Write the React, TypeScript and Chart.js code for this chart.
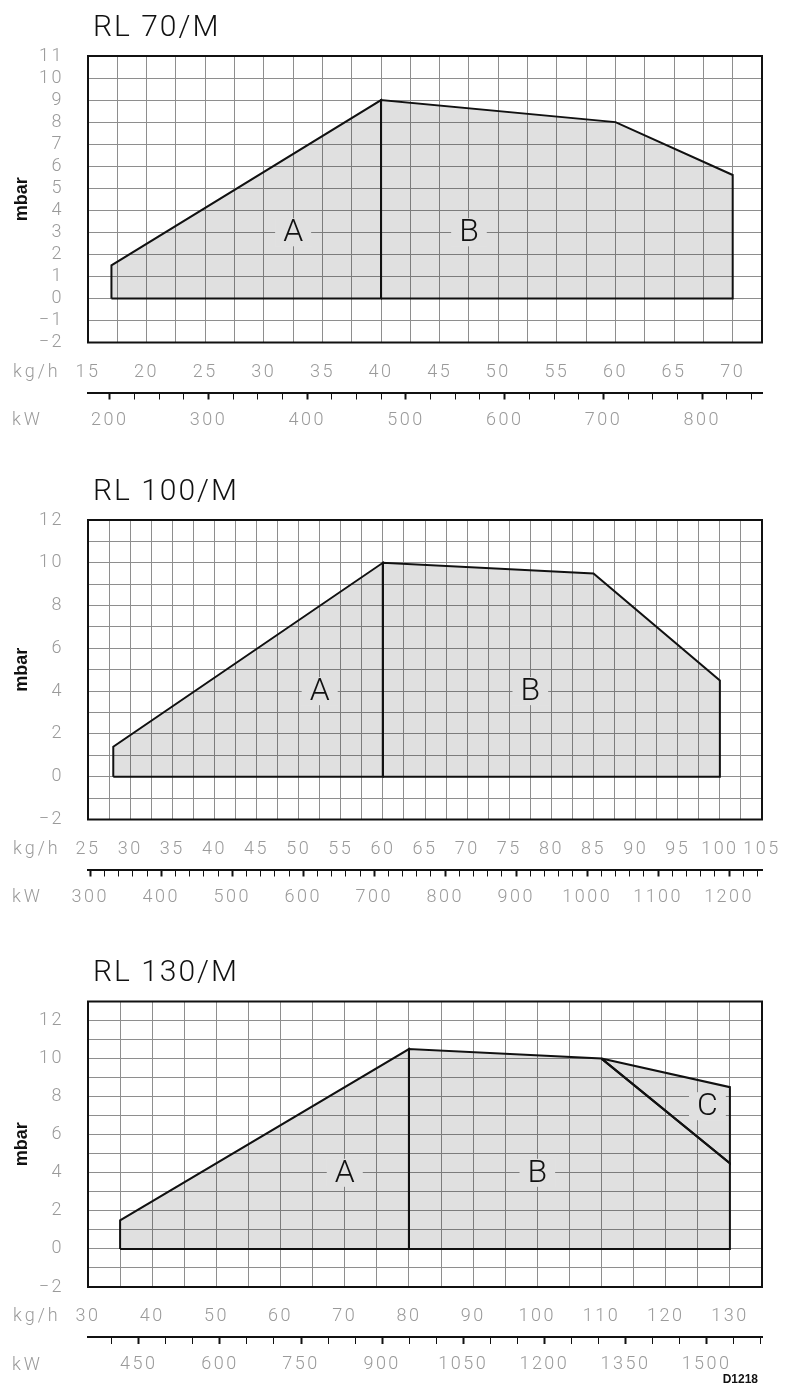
import { useEffect, useRef } from 'react';
import { Chart, ChartConfiguration, Plugin, registerables } from 'chart.js';

Chart.register(...registerables);

// natural gas: kW per kg/h (second scale under each chart)
const KW_PER_KGH = 11.87;

// ---- RL 70/M ----
const RL70_KGH = [15, 20, 25, 30, 35, 40, 45, 50, 55, 60, 65, 70];
const RL70_KW = [200, 300, 400, 500, 600, 700, 800];
const RL70_MBAR = [-2, -1, 0, 1, 2, 3, 4, 5, 6, 7, 8, 9, 10, 11];
const RL70_AREA_A: [number, number][] = [[17, 0], [17, 1.5], [40, 9], [40, 0]];
const RL70_AREA_B: [number, number][] = [[40, 0], [40, 9], [60, 8], [70, 5.6], [70, 0]];
const RL70_LETTERS: [string, number, number][] = [['A', 32.5, 3], ['B', 47.5, 3]];

// ---- RL 100/M ----
const RL100_KGH = [25, 30, 35, 40, 45, 50, 55, 60, 65, 70, 75, 80, 85, 90, 95, 100, 105];
const RL100_KW = [300, 400, 500, 600, 700, 800, 900, 1000, 1100, 1200];
const RL100_MBAR = [-2, 0, 2, 4, 6, 8, 10, 12];
const RL100_AREA_A: [number, number][] = [[28, 0], [28, 1.4], [60, 10], [60, 0]];
const RL100_AREA_B: [number, number][] = [[60, 0], [60, 10], [85, 9.5], [100, 4.5], [100, 0]];
const RL100_LETTERS: [string, number, number][] = [['A', 52.5, 4], ['B', 77.5, 4]];

// ---- RL 130/M ----
const RL130_KGH = [30, 40, 50, 60, 70, 80, 90, 100, 110, 120, 130];
const RL130_KW = [450, 600, 750, 900, 1050, 1200, 1350, 1500];
const RL130_MBAR = [-2, 0, 2, 4, 6, 8, 10, 12];
const RL130_AREA_A: [number, number][] = [[35, 0], [35, 1.5], [80, 10.5], [80, 0]];
const RL130_AREA_B: [number, number][] = [[80, 0], [80, 10.5], [110, 10], [130, 4.5], [130, 0]];
const RL130_AREA_C: [number, number][] = [[110, 10], [130, 8.5], [130, 4.5]];
const RL130_LETTERS: [string, number, number][] = [['A', 70, 4], ['B', 100, 4], ['C', 126.5, 7.5]];

const GRID = '#8e8e8e';
const TICK_TEXT = '#9a9a9a';
const INK = '#111111';
const FILL = 'rgba(0, 0, 0, 0.12)';
const FILL_SOLID = '#e0e0e0';
const LIGHT = 'Roboto, "DejaVu Sans", sans-serif';
const TICK_FONT = { family: LIGHT, size: 18, weight: 300 as const };

interface PanelProps {
  title: string;
  top: number;
  height: number;
  plotTop: number;
  plotBottom: number;
  xMin: number;
  xMax: number;
  xGrid: number;
  yMin: number;
  yMax: number;
  kwMinor: number;
  kghLabels: number[];
  kwLabels: number[];
  mbarLabels: number[];
  areas: [number, number][][];
  letters: [string, number, number][];
}

const PANELS: PanelProps[] = [
  {
    title: 'RL 70/M', top: 0, height: 450, plotTop: 56, plotBottom: 342.5,
    xMin: 15, xMax: 72.5, xGrid: 2.5, yMin: -2, yMax: 11, kwMinor: 25,
    kghLabels: RL70_KGH, kwLabels: RL70_KW, mbarLabels: RL70_MBAR,
    areas: [RL70_AREA_A, RL70_AREA_B], letters: RL70_LETTERS,
  },
  {
    title: 'RL 100/M', top: 450, height: 480, plotTop: 70, plotBottom: 369.5,
    xMin: 25, xMax: 105, xGrid: 2.5, yMin: -2, yMax: 12, kwMinor: 20,
    kghLabels: RL100_KGH, kwLabels: RL100_KW, mbarLabels: RL100_MBAR,
    areas: [RL100_AREA_A, RL100_AREA_B], letters: RL100_LETTERS,
  },
  {
    title: 'RL 130/M', top: 930, height: 460, plotTop: 71.5, plotBottom: 357,
    xMin: 30, xMax: 135, xGrid: 5, yMin: -2, yMax: 13, kwMinor: 50,
    kghLabels: RL130_KGH, kwLabels: RL130_KW, mbarLabels: RL130_MBAR,
    areas: [RL130_AREA_A, RL130_AREA_B, RL130_AREA_C], letters: RL130_LETTERS,
  },
];

const fmt = (v: number) => (v < 0 ? '\u2212' + Math.abs(v) : String(v));

function Panel({ p }: { p: PanelProps }) {
  const canvasRef = useRef<HTMLCanvasElement>(null);
  const chartRef = useRef<Chart | null>(null);

  useEffect(() => {
    if (!canvasRef.current) return;

    const kwMin = p.xMin * KW_PER_KGH;
    const kwMax = p.xMax * KW_PER_KGH;
    const kwTicks: number[] = [];
    for (let v = Math.ceil(kwMin / p.kwMinor) * p.kwMinor; v <= kwMax; v += p.kwMinor) kwTicks.push(v);

    const decor: Plugin<'line'> = {
      id: 'decor',
      beforeDraw(chart) {
        // wide CAD-like lettering for all tick labels
        (chart.ctx as any).letterSpacing = '2.5px';
      },
      afterDatasetsDraw(chart) {
        const { ctx, scales } = chart;
        ctx.save();
        (ctx as any).letterSpacing = '0px';
        ctx.font = `300 32px ${LIGHT}`;
        ctx.textAlign = 'center';
        ctx.textBaseline = 'middle';
        p.letters.forEach(([t, x, y]) => {
          const px = scales.x.getPixelForValue(x);
          const py = scales.y.getPixelForValue(y);
          const w = ctx.measureText(t).width;
          ctx.fillStyle = FILL_SOLID;
          ctx.fillRect(px - w / 2 - 8, py - 14, w + 16, 28);
          ctx.fillStyle = INK;
          ctx.fillText(t, px, py + 1);
        });
        ctx.restore();
      },
      afterDraw(chart) {
        const { ctx, chartArea: a } = chart;
        ctx.save();
        ctx.strokeStyle = INK;
        ctx.lineWidth = 2;
        ctx.strokeRect(a.left, a.top, a.right - a.left, a.bottom - a.top);

        ctx.textAlign = 'left';
        ctx.textBaseline = 'middle';
        ctx.fillStyle = INK;
        (ctx as any).letterSpacing = '2px';
        ctx.font = `300 30px ${LIGHT}`;
        ctx.fillText(p.title, a.left + 5, a.top - 28);

        ctx.fillStyle = TICK_TEXT;
        (ctx as any).letterSpacing = '3px';
        ctx.font = `300 18px ${LIGHT}`;
        ctx.fillText('kg/h', 13, a.bottom + 29.5);
        ctx.fillText('kW', 12, a.bottom + 50 + 28);

        // y-axis name
        (ctx as any).letterSpacing = '0px';
        ctx.fillStyle = INK;
        ctx.font = 'bold 18px "Liberation Sans", Arial, sans-serif';
        ctx.textAlign = 'center';
        ctx.translate(22, (a.top + a.bottom) / 2);
        ctx.rotate(-Math.PI / 2);
        ctx.fillText('mbar', 0, 0);
        ctx.restore();
        (ctx as any).letterSpacing = '0px';
      },
    };

    const config: ChartConfiguration<'line'> = {
      type: 'line',
      data: {
        datasets: p.areas.map((pts) => ({
          data: [...pts, pts[0]].map(([x, y]) => ({ x, y })),
          borderColor: INK,
          borderWidth: 2,
          backgroundColor: FILL,
          fill: 'shape',
          pointRadius: 0,
          pointHitRadius: 0,
          tension: 0,
        })),
      },
      options: {
        responsive: true,
        maintainAspectRatio: false,
        animation: false,
        layout: { padding: { top: p.plotTop, right: 24, bottom: 0, left: 0 } },
        plugins: {
          legend: { display: false },
          tooltip: { enabled: false },
          title: { display: false },
        },
        scales: {
          x: {
            type: 'linear',
            position: 'bottom',
            weight: 0,
            min: p.xMin,
            max: p.xMax,
            // invisible tick marks push the labels down without widening the side padding
            grid: { color: GRID, lineWidth: 1, drawTicks: true, tickLength: 19, tickColor: 'rgba(0,0,0,0)' },
            border: { display: false },
            ticks: {
              stepSize: p.xGrid,
              autoSkip: false,
              maxRotation: 0,
              padding: 0,
              color: TICK_TEXT,
              font: TICK_FONT,
              callback: (v) => (p.kghLabels.includes(Number(v)) ? String(v) : ''),
            },
            afterFit: (s) => {
              s.height = 50;
            },
          },
          kw: {
            type: 'linear',
            position: 'bottom',
            weight: 1,
            min: kwMin,
            max: kwMax,
            grid: {
              drawOnChartArea: false,
              drawTicks: true,
              tickLength: 7,
              tickColor: INK,
              tickWidth: (c) => (p.kwLabels.includes(Number(c.tick?.value)) ? 2 : 1),
            },
            border: { display: true, color: INK, width: 2 },
            ticks: {
              autoSkip: false,
              maxRotation: 0,
              padding: 10,
              color: TICK_TEXT,
              font: TICK_FONT,
              callback: (v) => (p.kwLabels.includes(Number(v)) ? String(v) : ''),
            },
            afterBuildTicks: (s) => {
              s.ticks = kwTicks.map((value) => ({ value }));
            },
            afterFit: (s) => {
              s.height = p.height - p.plotBottom - 50;
            },
          },
          y: {
            type: 'linear',
            min: p.yMin,
            max: p.yMax,
            grid: { color: GRID, lineWidth: 1, drawTicks: false },
            border: { display: false },
            ticks: {
              stepSize: 1,
              autoSkip: false,
              padding: 24,
              color: TICK_TEXT,
              font: TICK_FONT,
              callback: (v) => (p.mbarLabels.includes(Number(v)) ? fmt(Number(v)) : ''),
            },
            afterFit: (s) => {
              s.width = 88;
            },
          },
        },
      },
      plugins: [decor],
    };

    chartRef.current = new Chart(canvasRef.current, config);

    return () => {
      chartRef.current?.destroy();
    };
  }, [p]);

  return (
    <div style={{ position: 'absolute', top: p.top, left: 0, width: 786, height: p.height }}>
      <canvas ref={canvasRef}></canvas>
    </div>
  );
}

export default function App() {
  return (
    <div style={{ position: 'absolute', top: 0, left: 0, width: 786, height: 1390, background: '#fff' }}>
      {PANELS.map((p) => (
        <Panel key={p.title} p={p} />
      ))}
      <div
        style={{
          position: 'absolute',
          right: 28,
          top: 1372,
          fontFamily: '"Liberation Sans", Arial, sans-serif',
          fontWeight: 'bold',
          fontSize: 12,
          lineHeight: '14px',
          color: INK,
        }}
      >
        D1218
      </div>
    </div>
  );
}
